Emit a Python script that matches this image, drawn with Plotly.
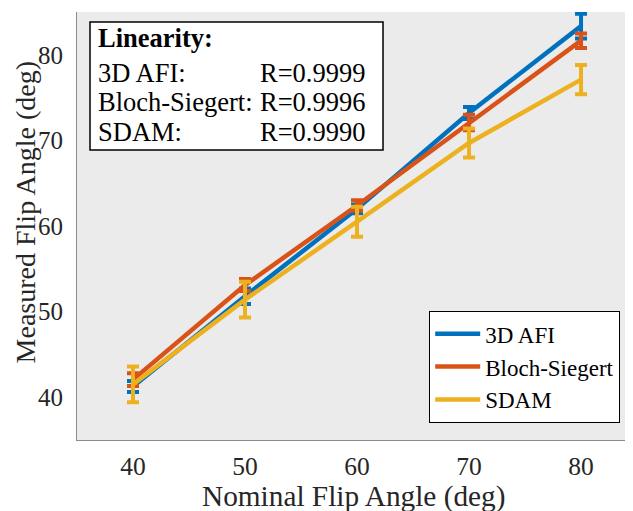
import plotly.graph_objects as go

nominal = [40, 50, 60, 70, 80]
afi = [41.25, 51.8, 62.0, 73.2, 83.35]
afi_err = [0.65, 0.9, 0.5, 0.7, 1.45]
bs = [42.05, 53.1, 62.4, 72.1, 81.65]
bs_err = [0.75, 0.7, 0.6, 0.9, 0.85]
sdam = [41.5, 51.4, 60.5, 69.7, 77.1]
sdam_err = [2.1, 2.1, 1.75, 1.7, 1.7]

series = [
    ("3D AFI", afi, afi_err, "#0072BD"),
    ("Bloch-Siegert", bs, bs_err, "#D95319"),
    ("SDAM", sdam, sdam_err, "#EDB120"),
]

FONT = "Liberation Serif, Times New Roman, serif"
TXT = "#262626"

fig = go.Figure()
for name, y, e, c in series:
    fig.add_trace(go.Scatter(
        x=nominal, y=y, name=name, mode="lines",
        line=dict(color=c, width=4.5),
        error_y=dict(type="data", array=e, visible=True, color=c, thickness=4, width=6),
    ))

# page body has an 8px margin, so the figure is 8px smaller than the window
W, H = 625, 503
L, R, T, B = 69, 0, 4, 71

fig.update_layout(
    width=W, height=H,
    margin=dict(l=L, r=R, t=T, b=B, pad=0),
    paper_bgcolor="white",
    plot_bgcolor="#EBEBEB",
    font=dict(family=FONT, size=25, color=TXT),
    showlegend=True,
    legend=dict(
        x=0.9766, y=0.0397, xanchor="right", yanchor="bottom",
        bgcolor="white", bordercolor="black", borderwidth=1.2,
        font=dict(family=FONT, size=23, color="black"),
        tracegroupgap=0, itemwidth=45,
    ),
    xaxis=dict(
        range=[35, 84.64], tickvals=nominal, ticktext=[str(v) for v in nominal],
        showgrid=False, zeroline=False, showline=True, linecolor="#8c8c8c", linewidth=1,
        ticks="", ticklabelstandoff=3, automargin=False,
        tickfont=dict(family=FONT, size=25.5, color=TXT),
    ),
    yaxis=dict(
        range=[35, 85], tickvals=[40, 50, 60, 70, 80],
        showgrid=False, zeroline=False, showline=True, linecolor="#8c8c8c", linewidth=1,
        ticks="", ticklabelstandoff=8, automargin=False,
        tickfont=dict(family=FONT, size=25, color=TXT),
    ),
)

# axis titles
fig.add_annotation(xref="paper", yref="paper", x=0.498, y=-0.133,
                   text="Nominal Flip Angle (deg)", showarrow=False,
                   xanchor="center", yanchor="middle",
                   font=dict(family=FONT, size=29.3, color=TXT))
fig.add_annotation(xref="paper", yref="paper", x=-0.0926, y=0.533,
                   text="Measured Flip Angle (deg)", showarrow=False, textangle=-90,
                   xanchor="center", yanchor="middle",
                   font=dict(family=FONT, size=28, color=TXT))

# Linearity box
fig.add_shape(type="rect", xref="paper", yref="paper",
              x0=0.0234, x1=0.5504, y0=0.6776, y1=0.9766,
              fillcolor="white", line=dict(color="black", width=1.5), layer="above")

labels = ["3D AFI:", "Bloch-Siegert:", "SDAM:"]
rvals = ["R=0.9999", "R=0.9996", "R=0.9990"]
ys = [0.8575, 0.7886, 0.7185]
fig.add_annotation(xref="paper", yref="paper", x=0.0342, y=0.9404, text="<b>Linearity:</b>",
                   showarrow=False, xanchor="left", yanchor="middle",
                   font=dict(family=FONT, size=26.5, color="black"))
for lab, rv, yy in zip(labels, rvals, ys):
    fig.add_annotation(xref="paper", yref="paper", x=0.0342, y=yy, text=lab,
                       showarrow=False, xanchor="left", yanchor="middle",
                       font=dict(family=FONT, size=26.5, color="black"))
    fig.add_annotation(xref="paper", yref="paper", x=0.5234, y=yy, text=rv,
                       showarrow=False, xanchor="right", yanchor="middle",
                       font=dict(family=FONT, size=26.5, color="black"))

fig.write_html("out.html")
